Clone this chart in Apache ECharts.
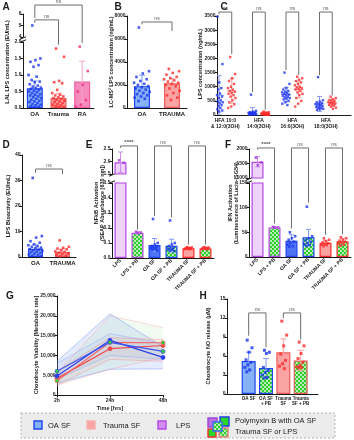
<!DOCTYPE html>
<html>
<head>
<meta charset="utf-8">
<script src="https://cdn.jsdelivr.net/npm/echarts@6/dist/echarts.min.js"></script>
<style>
html, body { margin: 0; padding: 0; background: #fff; }
#chart { width: 354px; height: 440px; }
</style>
</head>
<body>
<div id="chart"></div>
<script>
// ---- A : LAL LPS concentration ----
var aCats = ['OA', 'Trauma', 'RA']
var aMean = [0.6, 0.3, 0.8]
var aTop = [0.82, 0.45, 1.42]
var aOA = [5.0, 1.5, 1.45, 1.4, 1.3, 1.25, 1.0, 0.95, 0.85, 0.8, 0.78, 0.72, 0.68, 0.65, 0.62, 0.6, 0.58, 0.55, 0.52, 0.5, 0.48, 0.45, 0.42, 0.4, 0.38, 0.35, 0.33, 0.3, 0.28, 0.25, 0.22, 0.2, 0.18, 0.15, 0.12, 0.1, 0.08, 0.06, 0.04, 0.02]
var aTrauma = [1.8, 1.55, 0.82, 0.78, 0.75, 0.55, 0.45, 0.4, 0.38, 0.35, 0.32, 0.3, 0.28, 0.25, 0.22, 0.2, 0.18, 0.15, 0.12, 0.1, 0.08, 0.06, 0.04, 0.02]
var aRA = [1.86, 1.12, 0.7, 0.5, 0.24, 0.1, 0.04]
var aBrackets = [[0, 1, 2.67, 2.58, 1.92], [0, 2, 3.12, 2.73, 1.97]]
var aStars = ['ns', 'ns']

// ---- B : LC-MS2 LPS ----
var bCats = ['OA', 'TRAUMA']
var bMean = [1900, 2150]
var bTop = [2850, 2550]
var bOA = [7000, 3200, 3000, 2700, 2500, 2350, 2200, 2100, 2000, 1900, 1800, 1700, 1600, 1500, 1400, 1300, 1200, 1100, 1000, 900, 800, 600]
var bTrauma = [3400, 3200, 3050, 2900, 2700, 2600, 2500, 2400, 2300, 2200, 2100, 2000, 1900, 1700, 1500, 1300, 1100, 900, 700]
var bBrackets = [[0, 1, 7480, 7280, 6700]]

// ---- C : hydroxy fatty acids ----
var cCats = ['HFA 10:0\n& 12:0(3OH)', 'HFA\n14:0(3OH)', 'HFA\n16:0(3OH)', 'HFA\n18:0(3OH)']
var cOA = [
  [3480, 1800, 1150, 1050, 950, 900, 820, 760, 700, 650, 600, 560, 520, 480, 450, 420, 380, 350, 320, 280, 250, 200, 160, 120, 80],
  [720, 150, 120, 100, 90, 80, 70, 60, 50, 45, 40, 35, 30, 25, 20, 15, 10],
  [1500, 1100, 950, 900, 850, 820, 800, 780, 750, 720, 700, 680, 650, 620, 600, 580, 550, 500, 450, 400, 350],
  [1340, 520, 480, 450, 420, 400, 380, 360, 340, 320, 300, 280, 260, 240, 220, 200, 180]
]
var cTrauma = [
  [2050, 1450, 1300, 1200, 1100, 1000, 950, 900, 850, 820, 780, 750, 700, 650, 600, 520, 450, 380, 300, 250],
  [120, 100, 90, 80, 70, 60, 50, 45, 40, 35, 30, 25, 20, 15, 10, 8],
  [1350, 1300, 1250, 1200, 1150, 1100, 1050, 1000, 980, 950, 920, 900, 850, 800, 750, 700, 600, 500, 400, 300],
  [650, 600, 560, 530, 500, 480, 460, 440, 420, 400, 380, 360, 340, 300, 260, 220]
]
var cBrackets = [[-0.19, 0.19, 3640, 3560, 2150], [0.81, 1.19, 3640, 810, 190], [1.81, 2.19, 3640, 1590, 1410], [2.81, 3.19, 3640, 1410, 700]]

// ---- D : LPS bioactivity ----
var dCats = ['OA', 'TRAUMA']
var dMean = [3.2, 2.0]
var dTop = [4.8, 3.2]
var dOA = [31, 8.2, 7.6, 6.2, 5.6, 5.0, 4.6, 4.2, 4.0, 3.7, 3.4, 3.1, 2.9, 2.6, 2.4, 2.1, 1.9, 1.6, 1.3, 1.0, 0.8, 0.5, 0.3]
var dTrauma = [6.5, 4.0, 3.6, 3.3, 3.0, 2.6, 2.2, 2.0, 1.7, 1.4, 1.1, 0.8, 0.5, 0.3]
var dBrackets = [[0, 1, 34.5, 33, 32.5]]

// ---- E : NFkB ----
var eCats = ['LPS', 'LPS + PB', 'OA SF', 'OA SF + PB', 'TRAUMA SF', 'TRAUMA SF + PB']
var eMean = [1.97, 0.168, 0.087, 0.082, 0.065, 0.064]
var eTop = [2.38, 0.175, 0.13, 0.125, 0.07, 0.07]
var ePts = [
  [2.05, 1.95],
  [0.175, 0.17, 0.165],
  [0.26, 0.1, 0.09, 0.08, 0.075, 0.07, 0.065, 0.06, 0.055, 0.05],
  [0.25, 0.1, 0.09, 0.08, 0.07, 0.065, 0.06, 0.055, 0.05, 0.045],
  [0.072, 0.07, 0.068, 0.066, 0.064, 0.062, 0.06, 0.058],
  [0.072, 0.07, 0.068, 0.066, 0.064, 0.062, 0.06, 0.058]
]
var eBrackets = [[0, 1, 0.747, 0.735, 0.19], [2, 3, 0.747, 0.28, 0.27], [4, 5, 0.747, 0.09, 0.09]]
var eStars = ['****', 'ns', 'ns']

// ---- F : IFN ----
var fMean = [1560, 60, 33, 40, 29, 32]
var fTop = [1735, 62, 45, 56, 34, 37]
var fPts = [
  [1700, 1540, 1440],
  [61, 60, 59.5],
  [50, 42, 38, 35, 31, 28, 25, 22, 21],
  [102, 42, 38, 34, 31, 28, 26, 24, 22],
  [38, 35, 32, 30, 28, 26, 25, 24, 22],
  [40, 38, 35, 33, 31, 29, 27, 25, 23]
]
var fBrackets = [[0, 1, 221, 218, 68], [2, 3, 221, 58, 110], [4, 5, 221, 45, 46]]
var fStars = ['****', 'ns', 'ns']

// ---- G : viability ----
var gTimes = ['2h', '24h', '48h']
var gOA = [4800, 13800, 9500]
var gOAPB = [6000, 13300, 11000]
var gTr = [4200, 11700, 12500]
var gTrPB = [3600, 13300, 13200]
var gOALo = [3000, 6500, 6600], gOAHi = [8500, 20500, 12200]
var gOAPBLo = [4000, 10000, 9000], gOAPBHi = [8000, 15500, 13000]
var gTrLo = [2500, 9000, 8500], gTrHi = [6000, 14500, 14000]
var gTrPBLo = [2500, 6500, 9500], gTrPBHi = [5500, 20000, 17000]

// ---- H : NO release ----
var hCats = ['OA SF', 'OA SF\n+ PB', 'Trauma\nSF', 'Trauma\nSF + PB']
var hMean = [5.2, 4.1, 6.6, 5.3]
var hTop = [6.6, 5.6, 8.7, 6.9]
var hPts = [
  [8.5, 7.3, 6.6, 5.4, 5.0, 4.6, 4.2, 3.8, 3.5],
  [6.9, 6.6, 6.4, 4.2, 3.7, 3.4, 3.0, 2.6, 2.5],
  [11.5, 9.3, 7.6, 6.3, 5.3, 4.8, 4.4, 4.0],
  [8.2, 7.6, 6.4, 5.6, 5.0, 4.5, 4.3, 4.2, 4.1]
]
var hBrackets = [[0, 1, 12.8, 9.2, 7.4], [2, 3, 12.8, 12, 8.6]]

// ---------------- styles ----------------
var FONT = '"Liberation Sans", Arial, sans-serif'
var INK = '#1a1a1a'
var OA_FILL = '#86b3f6', OA_LINE = '#1f44f0', OA_DOT = '#1b35ee', OA_ERR = '#7d9cf7', OA_DARK = '#4f74f3'
var TR_FILL = '#f9a3a3', TR_LINE = '#f25a5a', TR_DOT = '#ff2a2a', TR_ERR = '#f6a0a0'
var RA_FILL = '#f68bbd', RA_LINE = '#f060a0', RA_DOT = '#ee2d84', RA_ERR = '#f7a6cb'
var LPS_FILL = '#eed3fa', LPS_LINE = '#b548e6', LPS_DOT = '#a83ad8', LPS_ERR = '#cf8cf0'

function checker(a, b) {
    var cv = document.createElement('canvas')
    cv.width = 4; cv.height = 4
    var g = cv.getContext('2d')
    g.fillStyle = b; g.fillRect(0, 0, 4, 4)
    g.fillStyle = a; g.fillRect(0, 0, 2, 2); g.fillRect(2, 2, 2, 2)
    return cv
}
var PB = {image: checker('#2ccf2c', '#b8ecb4'), repeat: 'repeat'}

var grids = [], xAxes = [], yAxes = [], series = [], graphics = []

function addGrid(box, x, y) {
    var gi = grids.length
    grids.push({left: box[0], top: box[1], width: box[2], height: box[3], containLabel: false, outerBoundsMode: 'none'})
    var fs = x.size || 6
    xAxes.push({
        type: 'value', gridIndex: gi, min: x.min, max: x.max, interval: x.step, show: x.show !== false,
        axisLine: {onZero: false, lineStyle: {color: INK, width: 1}},
        axisTick: {show: false}, splitLine: {show: false},
        axisLabel: {
            fontSize: fs, fontWeight: 'bold', color: INK, fontFamily: FONT, margin: x.margin || 3,
            rotate: x.rotate || 0, lineHeight: fs + 1,
            formatter: function(v) {
                var k = Math.round(v)
                return (Math.abs(v - k) < 1e-6 && x.cats && x.cats[k] != null) ? x.cats[k] : ''
            }
        }
    })
    yAxes.push({
        type: 'value', gridIndex: gi, min: y.min, max: y.max, interval: y.step,
        axisLine: {show: true, onZero: false, lineStyle: {color: INK, width: 1}},
        axisTick: {show: true, length: 2.5, lineStyle: {color: INK, width: 1}},
        splitLine: {show: false},
        axisLabel: {fontSize: 5, fontWeight: 'bold', color: INK, fontFamily: FONT, margin: 1.5, formatter: y.fmt}
    })
    return gi
}

function addBars(gi, vals, styles, w) {
    series.push({
        type: 'bar', xAxisIndex: gi, yAxisIndex: gi, barWidth: w, clip: true, silent: true, z: 2,
        data: vals.map(function(v, i) {
            return {value: [i, v], itemStyle: styles[i]}
        })
    })
}

function jit(j, spread) {
    return (((j * 0.618034 + 0.31) % 1) - 0.5) * spread
}

function addDots(gi, pos, groups, colors, spread, size) {
    groups.forEach(function(g, i) {
        series.push({
            type: 'scatter', xAxisIndex: gi, yAxisIndex: gi, clip: true, silent: true, z: 4,
            symbol: 'rect', symbolSize: size || 2.6, itemStyle: {color: colors[i]},
            data: g.map(function(v, j) { return [pos[i] + jit(j, spread), v] })
        })
    })
}

function addErr(gi, pos, mean, top, colors, cap, meanW) {
    series.push({
        type: 'custom', xAxisIndex: gi, yAxisIndex: gi, silent: true, z: 3, clip: true,
        data: mean.map(function(m, i) { return [pos[i], 2 * m - top[i], top[i], m] }),
        renderItem: function(p, api) {
            var c = colors[p.dataIndex]
            var x = api.value(0)
            var a = api.coord([x, Math.max(api.value(1), 0)]), b = api.coord([x, api.value(2)])
            var st = {stroke: c, lineWidth: 1}
            var kids = [
                {type: 'line', shape: {x1: a[0], y1: a[1], x2: b[0], y2: b[1]}, style: st},
                {type: 'line', shape: {x1: b[0] - cap, y1: b[1], x2: b[0] + cap, y2: b[1]}, style: st},
                {type: 'line', shape: {x1: a[0] - cap, y1: a[1], x2: a[0] + cap, y2: a[1]}, style: st}
            ]
            if (meanW) {
                var m = api.coord([x, api.value(3)])
                kids.push({type: 'line', shape: {x1: m[0] - meanW, y1: m[1], x2: m[0] + meanW, y2: m[1]}, style: st})
            }
            return {type: 'group', children: kids}
        }
    })
}

function addBrackets(gi, list, labels) {
    series.push({
        type: 'custom', xAxisIndex: gi, yAxisIndex: gi, silent: true, z: 6, clip: false,
        data: list,
        renderItem: function(p, api) {
            var x1 = api.value(0), x2 = api.value(1), y = api.value(2)
            var a = api.coord([x1, api.value(3)]), b = api.coord([x1, y])
            var c = api.coord([x2, y]), d = api.coord([x2, api.value(4)])
            var t = labels ? labels[p.dataIndex] : 'ns'
            return {type: 'group', children: [
                {type: 'polyline', shape: {points: [a, b, c, d]}, style: {stroke: '#6e6e6e', lineWidth: 1, fill: 'none'}},
                {type: 'text', style: {
                    text: t, x: (b[0] + c[0]) / 2, y: b[1] - 0.5,
                    align: 'center', verticalAlign: 'bottom', textAlign: 'center', textVerticalAlign: 'bottom',
                    fontSize: t === 'ns' ? 5 : 6, fontWeight: t === 'ns' ? 'normal' : 'bold', fontFamily: FONT, fill: '#555'
                }}
            ]}
        }
    })
}

function txt(x, y, s, size, weight, rot, align) {
    graphics.push({
        type: 'text', x: x, y: y, rotation: rot || 0, silent: true,
        style: {
            text: s, fontSize: size, fontWeight: weight || 'normal', fontFamily: FONT, fill: INK,
            align: align || 'center', verticalAlign: 'middle', textAlign: align || 'center', textVerticalAlign: 'middle'
        }
    })
}

function brk(x, y1, y2) {
    graphics.push({type: 'line', silent: true, shape: {x1: x - 3, y1: y1 + 1.2, x2: x + 3, y2: y1 - 1.2}, style: {stroke: INK, lineWidth: 1}})
    graphics.push({type: 'line', silent: true, shape: {x1: x - 3, y1: y2 + 1.2, x2: x + 3, y2: y2 - 1.2}, style: {stroke: INK, lineWidth: 1}})
}

var f1 = function(v) { return v.toFixed(1) }
var f0 = function(v) { return String(Math.round(v)) }

// ---------------- A ----------------
var aLo = addGrid([23, 42, 71, 66], {min: -0.5, max: 2.5, step: 0.5, cats: aCats}, {min: 0, max: 2, step: 0.5, fmt: f1})
var aUp = addGrid([23, 14, 71, 23], {min: -0.5, max: 2.5, step: 0.5, show: false}, {min: 4, max: 6, step: 1, fmt: f0})
var aStyles = [
    {color: OA_FILL, borderColor: OA_LINE, borderWidth: 1.2},
    {color: TR_FILL, borderColor: TR_LINE, borderWidth: 1.2},
    {color: RA_FILL, borderColor: RA_LINE, borderWidth: 1.2}
]
addBars(aLo, aMean, aStyles, 16)
addErr(aLo, [0, 1, 2], aMean, aTop, [OA_ERR, TR_ERR, RA_ERR], 3)
addDots(aLo, [0, 1, 2], [aOA, aTrauma, aRA], [OA_DOT, TR_DOT, RA_DOT], 0.55)
addDots(aUp, [0, 1, 2], [aOA, aTrauma, aRA], [OA_DOT, TR_DOT, RA_DOT], 0.55)
addBrackets(aLo, aBrackets, aStars)
brk(23, 38, 41)

// ---------------- B ----------------
var bG = addGrid([127, 16, 60, 92], {min: -0.5, max: 1.5, step: 0.5, cats: bCats}, {min: 0, max: 8000, step: 2000, fmt: f0})
addBars(bG, bMean, [aStyles[0], aStyles[1]], 16)
addErr(bG, [0, 1], bMean, bTop, [OA_ERR, TR_ERR], 3)
addDots(bG, [0, 1], [bOA, bTrauma], [OA_DOT, TR_DOT], 0.55)
addBrackets(bG, bBrackets)

// ---------------- C ----------------
var cG = addGrid([217, 16, 134, 99], {min: -0.25, max: 3.75, step: 0.25, cats: cCats, size: 5}, {min: 0, max: 3500, step: 500, fmt: f0})
var cPosB = [-0.19, 0.81, 1.81, 2.81], cPosR = [0.19, 1.19, 2.19, 3.19]
function stats(arr) {
    var m = arr.reduce(function(s, v) { return s + v }, 0) / arr.length
    var sd = Math.sqrt(arr.reduce(function(s, v) { return s + (v - m) * (v - m) }, 0) / (arr.length - 1))
    return [m, m + sd]
}
var cMB = cOA.map(stats), cMR = cTrauma.map(stats)
addDots(cG, cPosB, cOA, [OA_DOT, OA_DOT, OA_DOT, OA_DOT], 0.24, 2.4)
addDots(cG, cPosR, cTrauma, [TR_DOT, TR_DOT, TR_DOT, TR_DOT], 0.24, 2.4)
addErr(cG, cPosB, cMB.map(function(s) { return s[0] }), cMB.map(function(s) { return s[1] }), ['#8c98ee', '#8c98ee', '#8c98ee', '#8c98ee'], 2.5, 5)
addErr(cG, cPosR, cMR.map(function(s) { return s[0] }), cMR.map(function(s) { return s[1] }), ['#f0a0a0', '#f0a0a0', '#f0a0a0', '#f0a0a0'], 2.5, 5)
addBrackets(cG, cBrackets)

// ---------------- D ----------------
var dG = addGrid([22, 155, 54, 102], {min: -0.5, max: 1.5, step: 0.5, cats: dCats}, {min: 0, max: 40, step: 10, fmt: f0})
addBars(dG, dMean, [aStyles[0], aStyles[1]], 15)
addErr(dG, [0, 1], dMean, dTop, [OA_ERR, TR_ERR], 3)
addDots(dG, [0, 1], [dOA, dTrauma], [OA_DOT, TR_DOT], 0.55)
addBrackets(dG, dBrackets)

// ---------------- E / F shared styles ----------------
var efStyles = [
    {color: LPS_FILL, borderColor: LPS_LINE, borderWidth: 1.2},
    {color: PB, borderColor: LPS_LINE, borderWidth: 1.2},
    {color: OA_DARK, borderColor: OA_LINE, borderWidth: 1.2},
    {color: PB, borderColor: OA_LINE, borderWidth: 1.2},
    {color: TR_FILL, borderColor: TR_DOT, borderWidth: 1.2},
    {color: PB, borderColor: TR_DOT, borderWidth: 1.2}
]
var efDots = [LPS_DOT, LPS_DOT, OA_DOT, OA_DOT, TR_DOT, TR_DOT]
var efErr = [LPS_ERR, LPS_ERR, OA_ERR, OA_ERR, TR_ERR, TR_ERR]
var efPos = [0, 1, 2, 3, 4, 5]

// ---------------- E ----------------
var eLo = addGrid([112, 183, 102, 75], {min: -0.5, max: 5.5, step: 0.5, cats: eCats, size: 5, rotate: 45, margin: 2}, {min: 0, max: 0.5, step: 0.1, fmt: f1})
var eUp = addGrid([112, 149, 102, 25], {min: -0.5, max: 5.5, step: 0.5, show: false}, {min: 1.5, max: 2.5, step: 0.5, fmt: f1})
addBars(eLo, eMean, efStyles, 12)
addBars(eUp, eMean, efStyles, 12)
addErr(eLo, efPos, eMean, eTop, efErr, 2.5)
addErr(eUp, efPos, eMean, eTop, efErr, 2.5)
addDots(eLo, efPos, ePts, efDots, 0.45)
addDots(eUp, efPos, ePts, efDots, 0.45)
addBrackets(eLo, eBrackets, eStars)
brk(112, 175, 182)

// ---------------- F ----------------
var fLo = addGrid([249, 183, 102, 74], {min: -0.5, max: 5.5, step: 0.5, cats: eCats, size: 5, rotate: 45, margin: 2}, {min: 0, max: 150, step: 50, fmt: f0})
var fUp = addGrid([249, 149, 102, 29], {min: -0.5, max: 5.5, step: 0.5, show: false}, {min: 1000, max: 2000, step: 500, fmt: f0})
addBars(fLo, fMean, efStyles, 12)
addBars(fUp, fMean, efStyles, 12)
addErr(fLo, efPos, fMean, fTop, efErr, 2.5)
addErr(fUp, efPos, fMean, fTop, efErr, 2.5)
addDots(fLo, efPos, fPts, efDots, 0.5)
addDots(fUp, efPos, fPts, efDots, 0.5)
addBrackets(fLo, fBrackets, fStars)
brk(249, 179, 182)

// ---------------- G ----------------
var gG = grids.length
grids.push({left: 57, top: 296, width: 106, height: 99, containLabel: false, outerBoundsMode: 'none'})
xAxes.push({
    type: 'category', gridIndex: gG, data: gTimes, boundaryGap: false,
    axisLine: {lineStyle: {color: INK, width: 1}},
    axisTick: {show: true, length: 2.5, lineStyle: {color: INK}},
    axisLabel: {fontSize: 5, fontWeight: 'bold', color: INK, fontFamily: FONT, margin: 3},
    splitLine: {show: false}
})
yAxes.push({
    type: 'value', gridIndex: gG, min: 0, max: 25000, interval: 5000,
    axisLine: {show: true, lineStyle: {color: INK, width: 1}},
    axisTick: {show: true, length: 2.5, lineStyle: {color: INK}},
    splitLine: {show: false},
    axisLabel: {fontSize: 5, fontWeight: 'bold', color: INK, fontFamily: FONT, margin: 1.5}
})
function band(lo, hi, edge, fill, key) {
    series.push({type: 'line', xAxisIndex: gG, yAxisIndex: gG, stack: key, data: lo, symbol: 'none', silent: true, z: 1,
        lineStyle: {color: edge, width: 0.8}})
    series.push({type: 'line', xAxisIndex: gG, yAxisIndex: gG, stack: key, symbol: 'none', silent: true, z: 1,
        data: hi.map(function(v, i) { return v - lo[i] }),
        lineStyle: {color: edge, width: 0.8}, areaStyle: {color: fill, opacity: 1}})
}
band(gOALo, gOAHi, 'rgba(110,140,245,0.55)', 'rgba(100,140,235,0.17)', 'b1')
band(gOAPBLo, gOAPBHi, 'rgba(120,150,245,0.45)', 'rgba(140,150,240,0.10)', 'b2')
band(gTrLo, gTrHi, 'rgba(245,130,130,0.45)', 'rgba(240,130,130,0.12)', 'b3')
band(gTrPBLo, gTrPBHi, 'rgba(245,150,150,0.45)', 'rgba(150,225,150,0.12)', 'b4')
function meanLine(vals, lc, dot) {
    series.push({type: 'line', xAxisIndex: gG, yAxisIndex: gG, data: vals, symbol: 'circle', symbolSize: 4, silent: true, z: 5,
        lineStyle: {color: lc, width: 1.2}, itemStyle: {color: dot, borderColor: lc, borderWidth: 0.8}})
}
meanLine(gTr, '#f04848', '#f04848')
meanLine(gTrPB, '#f26a6a', '#2fcf2f')
meanLine(gOA, '#2a3ff0', '#2a3ff0')
meanLine(gOAPB, '#3a55f0', '#2fcf2f')

// ---------------- H ----------------
var hG = addGrid([227, 299, 91, 95], {min: -1.25, max: 4, step: 0.25, cats: hCats, size: 4.5, margin: 2}, {min: 0, max: 15, step: 3, fmt: f0})
addBars(hG, hMean, [
    {color: OA_FILL, borderColor: OA_LINE, borderWidth: 1.2},
    {color: PB, borderColor: OA_LINE, borderWidth: 1.2},
    {color: TR_FILL, borderColor: TR_LINE, borderWidth: 1.2},
    {color: PB, borderColor: TR_LINE, borderWidth: 1.2}
], 14)
addErr(hG, [0, 1, 2, 3], hMean, hTop, [OA_ERR, OA_ERR, TR_ERR, TR_ERR], 3)
addDots(hG, [0, 1, 2, 3], hPts, [OA_DOT, OA_DOT, TR_DOT, TR_DOT], 0.45, 3)
addBrackets(hG, hBrackets)

// ---------------- texts ----------------
txt(6, 7, 'A', 10, 'bold'); txt(118, 7, 'B', 10, 'bold'); txt(224, 7, 'C', 10, 'bold')
txt(6, 145, 'D', 10, 'bold'); txt(89, 145, 'E', 10, 'bold'); txt(228, 145, 'F', 10, 'bold')
txt(10, 296, 'G', 10, 'bold'); txt(203, 296, 'H', 10, 'bold')
var R = Math.PI / 2
txt(7, 62, 'LAL LPS concentration (EU/mL)', 5.5, 'bold', R)
txt(111, 62, 'LC-MS\u00b2 LPS concentration (ng/mL)', 5.5, 'bold', R)
txt(200, 64, 'LPS concentration (ng/mL)', 5.5, 'bold', R)
txt(8, 206, 'LPS Bioactivity (EU/mL)', 5.5, 'bold', R)
txt(96, 203, 'NFkB Activation', 5.5, 'bold', R)
txt(102, 203, '(SEAP Absorbance [630 nm])', 5.5, 'bold', R)
txt(230, 203, 'IFN Activation', 5.5, 'bold', R)
txt(236, 203, '(Luminescence of Lucia-ISG54)', 5.5, 'bold', R)
txt(36, 345, 'Chondrocyte Viability [Metabolic rate]', 5.5, 'bold', R)
txt(208, 346, 'Chondrocyte NO release (\u00b5M)', 5.5, 'bold', R)
txt(110, 408, 'Time [hrs]', 5.5, 'bold')

// ---------------- legend ----------------
graphics.push({type: 'rect', silent: true, shape: {x: 21, y: 413, width: 314, height: 25},
    style: {fill: '#ececec', stroke: '#b4b4b4', lineWidth: 1, lineDash: [2, 2]}})
function sq(x, y, s, fill, stroke) {
    graphics.push({type: 'rect', silent: true, shape: {x: x, y: y, width: s, height: s}, style: {fill: fill, stroke: stroke, lineWidth: 1.4}})
}
sq(34, 421, 8, OA_FILL, OA_LINE); txt(48, 425.5, 'OA SF', 7.5, 'normal', 0, 'left')
sq(87, 421, 8, TR_FILL, '#f6b0b0'); txt(103, 425.5, 'Trauma SF', 7.5, 'normal', 0, 'left')
sq(158, 421, 8, '#d28cf2', LPS_LINE); txt(176, 425.5, 'LPS', 7.5, 'normal', 0, 'left')
sq(208, 418, 9, '#b870e2', '#9a48d4')
sq(220, 417, 9, '#2ad62a', '#1f3fe8')
sq(208, 429, 8, '#2ad62a', '#ee3030')
sq(219, 428, 9, PB, '#e88080')
sq(213, 422, 9, PB, '#3d6cf2')
txt(235, 421, 'Polymyxin B with OA SF', 7.5, 'normal', 0, 'left')
txt(235, 431.5, 'Trauma SF or LPS', 7.5, 'normal', 0, 'left')

var chart = echarts.init(document.getElementById('chart'), null, {renderer: 'canvas'})
chart.setOption({
    animation: false,
    backgroundColor: '#fff',
    textStyle: {fontFamily: FONT},
    grid: grids,
    xAxis: xAxes,
    yAxis: yAxes,
    series: series,
    graphic: graphics
})
</script>
</body>
</html>
